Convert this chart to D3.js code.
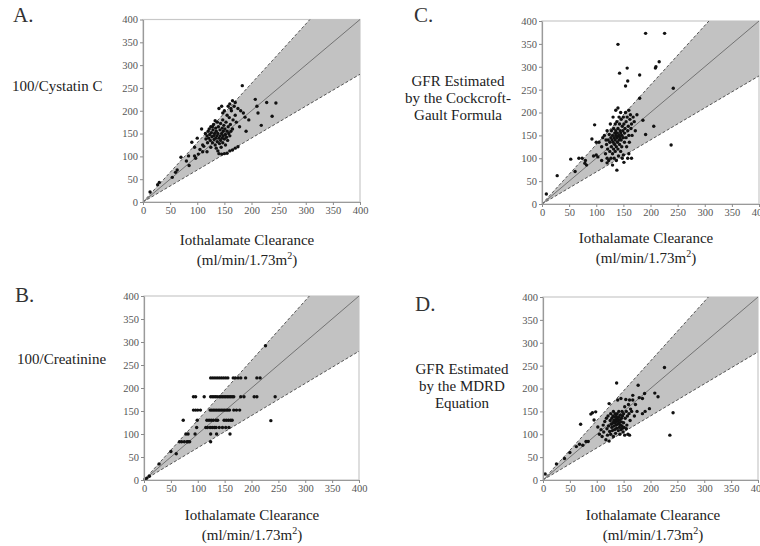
<!DOCTYPE html>
<html><head><meta charset="utf-8">
<script src="https://cdn.jsdelivr.net/npm/d3@7"></script>
<style>
html,body{margin:0;padding:0;background:#fff;}
svg{display:block;font-family:"Liberation Serif","Times New Roman",serif;}
</style></head>
<body>
<svg id="c" width="760" height="546"></svg>
<script>
// ---------- data ----------
const tickValues = [0, 50, 100, 150, 200, 250, 300, 350, 400];
const bandUpper = 1.3;   // +30% limit
const bandLower = 0.7;   // -30% limit
const panelLetters = ["A.", "B.", "C.", "D."];
const yLabelsA = ["100/Cystatin C"];
const yLabelsB = ["100/Creatinine"];
const yLabelsC = ["GFR Estimated", "by the Cockcroft-", "Gault Formula"];
const yLabelsD = ["GFR Estimated", "by the MDRD", "Equation"];
const xLabel1 = "Iothalamate Clearance";

const pointsA = [[13,22],[30,43],[27,38],[54,54],[60,65],[63,70],[70,98],[80,90],[84,101],[85,80],[90,131],[95,101],[97,96],[100,140],[102,105],[105,115],[108,160],[110,125],[112,122],[115,150],[116,138],[118,145],[119,130],[120,155],[121,140],[122,160],[123,148],[124,135],[125,165],[126,152],[127,143],[128,130],[129,158],[130,170],[130,145],[131,137],[132,150],[133,125],[134,162],[134,140],[135,155],[135,118],[136,145],[137,175],[137,132],[138,150],[138,112],[139,165],[140,205],[140,140],[140,106],[141,128],[142,158],[142,145],[143,172],[143,135],[144,120],[145,210],[145,150],[145,105],[146,162],[146,140],[147,180],[147,130],[148,155],[148,145],[149,168],[150,200],[150,138],[150,106],[151,160],[152,148],[152,125],[153,175],[154,142],[155,190],[155,155],[155,107],[156,135],[157,165],[158,150],[159,185],[160,215],[160,145],[160,112],[161,170],[162,155],[163,200],[165,222],[165,160],[165,114],[166,180],[168,210],[170,218],[170,190],[170,118],[172,175],[175,121],[175,205],[178,165],[180,200],[183,255],[185,195],[188,186],[190,155],[195,180],[207,225],[210,210],[212,195],[218,168],[228,218],[238,188],[245,217],[125,120],[118,110],[110,110],[95,120],[128,165],[133,178],[147,195],[157,210],[162,205]];

const rowB222 = [124,128,132,136,140,144,148,152,156,166,170,175,180,189,210,216];
const rowB181 = [92,96,112,124,127,130,133,136,140,143,146,149,152,155,158,161,164,167,180,186,205,210,244];
const rowB152 = [92,96,100,105,123,126,129,132,135,138,141,144,147,150,153,156,159,167,172,178];
const rowB130 = [73,99,117,121,125,129,134,137,149,153,157,161,164];
const rowB114 = [98,115,118,123,127,131,134,140,146,152,158];
const rowB100 = [78,82,95,124,135,160];
const rowB83  = [66,70,75,80,82,85,124];
const otherB  = [[2,2],[5,4],[10,8],[28,35],[50,62],[60,57],[226,292],[236,129]];

const pointsC = [[8,22],[28,62],[53,98],[61,71],[68,100],[74,100],[79,89],[82,85],[80,95],[92,142],[95,105],[97,173],[100,107],[103,103],[100,135],[105,135],[110,125],[112,145],[115,150],[117,110],[118,140],[119,130],[120,100],[120,160],[121,120],[122,140],[123,95],[124,152],[125,135],[125,115],[126,175],[127,145],[127,100],[128,160],[128,125],[129,140],[130,150],[130,110],[130,85],[131,190],[131,135],[132,165],[132,120],[133,145],[133,100],[134,155],[134,130],[135,175],[135,140],[135,115],[136,205],[136,160],[136,150],[137,125],[137,95],[138,145],[138,74],[138,180],[139,155],[139,135],[140,210],[140,165],[140,148],[140,120],[141,105],[142,190],[142,150],[142,140],[143,175],[143,130],[144,160],[144,145],[145,200],[145,155],[145,115],[146,140],[146,185],[147,150],[147,125],[148,170],[148,100],[149,160],[150,145],[150,190],[150,107],[151,91],[151,175],[152,155],[152,135],[153,165],[154,200],[155,145],[155,180],[156,125],[157,190],[158,100],[158,160],[159,170],[160,205],[160,150],[161,135],[162,185],[163,195],[164,165],[165,175],[166,150],[168,190],[170,180],[172,160],[175,195],[180,231],[186,183],[191,152],[206,170],[140,349],[143,286],[154,258],[157,297],[158,269],[180,282],[191,373],[209,297],[210,300],[216,311],[226,373],[238,129],[242,253],[120,90],[110,95],[165,100],[160,110]];

const pointsD = [[4,13],[25,35],[40,47],[50,60],[62,73],[68,78],[70,122],[74,76],[80,84],[84,84],[89,144],[92,147],[95,131],[98,149],[102,116],[105,100],[108,110],[110,95],[112,120],[113,105],[115,128],[117,88],[118,135],[119,112],[120,98],[121,140],[122,118],[123,167],[123,85],[124,106],[125,130],[126,145],[126,100],[127,122],[128,115],[128,135],[129,108],[130,140],[130,125],[131,95],[131,150],[132,130],[132,118],[133,138],[133,110],[134,145],[134,125],[135,132],[135,102],[136,140],[136,120],[137,212],[137,128],[137,113],[138,135],[138,145],[139,175],[139,122],[140,130],[140,108],[141,138],[141,150],[142,125],[142,115],[143,132],[143,100],[144,142],[144,120],[145,178],[145,110],[146,135],[146,127],[147,150],[147,118],[148,113],[148,140],[149,105],[150,145],[150,125],[151,115],[152,160],[152,98],[153,135],[154,176],[155,150],[155,112],[156,120],[157,140],[158,100],[159,165],[160,145],[161,175],[161,98],[162,130],[163,155],[165,150],[167,175],[167,185],[170,140],[172,165],[175,150],[177,207],[179,180],[185,178],[185,145],[189,189],[190,150],[198,156],[208,190],[214,182],[226,246],[236,98],[242,147]];

// build B table from rows
const pointsB = [].concat(
  rowB222.map(x => [x, 222]), rowB181.map(x => [x, 181]), rowB152.map(x => [x, 152]),
  rowB130.map(x => [x, 130]), rowB114.map(x => [x, 114]), rowB100.map(x => [x, 100]),
  rowB83.map(x => [x, 83]), otherB);

// ---------- layout ----------
const panels = [
  {letter: panelLetters[0], pts: pointsA, x0: 143, x1: 360, y0: 202, y1: 19.5,
   lx: 13, ly: 22, ylab: yLabelsA, ylabX: 12, ylabY: 91, anchor: "start",
   xlabX: 247, xlabY: 245},
  {letter: panelLetters[1], pts: pointsB, x0: 144, x1: 359, y0: 480, y1: 296,
   lx: 15, ly: 302, ylab: yLabelsB, ylabX: 17, ylabY: 364, anchor: "start",
   xlabX: 252, xlabY: 520},
  {letter: panelLetters[2], pts: pointsC, x0: 542, x1: 759, y0: 204, y1: 21,
   lx: 414, ly: 22, ylab: yLabelsC, ylabX: 458, ylabY: 86, anchor: "middle",
   xlabX: 646, xlabY: 243},
  {letter: panelLetters[3], pts: pointsD, x0: 543, x1: 758, y0: 480, y1: 297,
   lx: 415, ly: 311, ylab: yLabelsD, ylabX: 462, ylabY: 374, anchor: "middle",
   xlabX: 653, xlabY: 520}
];

const svg = d3.select("#c");

panels.forEach(p => {
  const g = svg.append("g");
  const x = d3.scaleLinear().domain([0, 400]).range([p.x0, p.x1]);
  const y = d3.scaleLinear().domain([0, 400]).range([p.y0, p.y1]);

  // frame
  g.append("rect").attr("x", p.x0).attr("y", p.y1)
    .attr("width", p.x1 - p.x0).attr("height", p.y0 - p.y1)
    .attr("fill", "#fff").attr("stroke", "#c8c8c8").attr("stroke-width", 1.2);

  // shaded band
  const band = [[0, 0], [400 / bandUpper, 400], [400, 400], [400, 400 * bandLower]];
  g.append("path")
    .attr("d", d3.line().x(d => x(d[0])).y(d => y(d[1]))(band) + "Z")
    .attr("fill", "#c2c2c2").attr("stroke", "none");

  // limits (dashed)
  [[[0, 0], [400 / bandUpper, 400]], [[0, 0], [400, 400 * bandLower]]].forEach(seg => {
    g.append("line")
      .attr("x1", x(seg[0][0])).attr("y1", y(seg[0][1]))
      .attr("x2", x(seg[1][0])).attr("y2", y(seg[1][1]))
      .attr("stroke", "#555").attr("stroke-width", 1).attr("stroke-dasharray", "3,2");
  });
  // identity line
  g.append("line").attr("x1", x(0)).attr("y1", y(0)).attr("x2", x(400)).attr("y2", y(400))
    .attr("stroke", "#6a6a6a").attr("stroke-width", 0.9);

  // points
  g.append("g").selectAll("circle").data(p.pts).join("circle")
    .attr("cx", d => x(d[0])).attr("cy", d => y(d[1])).attr("r", 1.7)
    .attr("fill", "#111");

  // axes
  const ax = g.append("g").attr("transform", `translate(0,${p.y0})`)
    .call(d3.axisBottom(x).tickValues(tickValues).tickSize(3).tickSizeOuter(0).tickPadding(2));
  const ay = g.append("g").attr("transform", `translate(${p.x0},0)`)
    .call(d3.axisLeft(y).tickValues(tickValues).tickSize(3).tickSizeOuter(0).tickPadding(2));
  [ax, ay].forEach(a => {
    a.select(".domain").attr("stroke", "#9a9a9a").attr("stroke-width", 1.2);
    a.selectAll(".tick line").attr("stroke", "#8a8a8a");
    a.selectAll(".tick text").attr("fill", "#555").style("font-family", "'Liberation Serif',serif")
      .style("font-size", "10.5px");
  });

  // panel letter
  g.append("text").attr("x", p.lx).attr("y", p.ly).text(p.letter)
    .attr("font-size", 21).attr("fill", "#333");

  // y label
  p.ylab.forEach((t, i) => {
    g.append("text").attr("x", p.ylabX).attr("y", p.ylabY + i * 17)
      .attr("text-anchor", p.anchor).attr("font-size", 15).attr("fill", "#222").text(t);
  });

  // x label
  g.append("text").attr("x", p.xlabX).attr("y", p.xlabY).attr("text-anchor", "middle")
    .attr("font-size", 15).attr("fill", "#222").text(xLabel1);
  const t2 = g.append("text").attr("x", p.xlabX).attr("y", p.xlabY + 20).attr("text-anchor", "middle")
    .attr("font-size", 15).attr("fill", "#222");
  t2.append("tspan").text("(ml/min/1.73m");
  t2.append("tspan").attr("font-size", 10).attr("dy", -6).text("2");
  t2.append("tspan").attr("dy", 6).text(")");
});
</script>
</body></html>
